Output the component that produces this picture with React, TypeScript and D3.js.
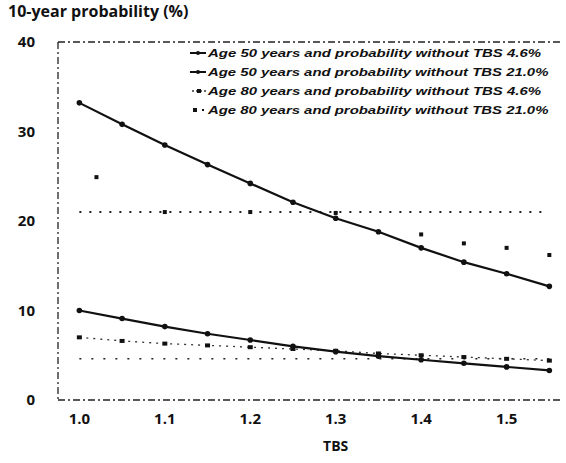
import React from 'react';
import * as d3 from 'd3';

// TBS values on the x axis
const tbs = [1.0, 1.05, 1.1, 1.15, 1.2, 1.25, 1.3, 1.35, 1.4, 1.45, 1.5, 1.55];
const xTicks = [1.0, 1.1, 1.2, 1.3, 1.4, 1.5];
const yTicks = [0, 10, 20, 30, 40];

// 10-year probability (%)
const age50p46 = [10.0, 9.1, 8.2, 7.4, 6.7, 6.0, 5.4, 4.9, 4.5, 4.1, 3.7, 3.3];
const age50p21 = [33.2, 30.8, 28.5, 26.3, 24.2, 22.1, 20.3, 18.8, 17.0, 15.4, 14.1, 12.7];
const age80p46 = [7.0, 6.6, 6.3, 6.1, 5.9, 5.7, 5.5, 5.2, 5.0, 4.8, 4.6, 4.4];
const age80p21X = [1.02, 1.1, 1.2, 1.3, 1.4, 1.45, 1.5, 1.55];
const age80p21 = [24.9, 21.0, 21.0, 20.9, 18.5, 17.5, 17.0, 16.2];

// probability without TBS (flat dotted references)
const refLevels = [21.0, 4.6];

const legendLabels = [
  'Age 50 years and probability without TBS 4.6%',
  'Age 50 years and probability without TBS 21.0%',
  'Age 80 years and probability without TBS 4.6%',
  'Age 80 years and probability without TBS 21.0%',
];

export default function App() {
  const width = 566;
  const height = 463;
  const left = 58, right = 563, top = 42, bottom = 400;

  const x = d3.scaleLinear().domain([0.975, 1.566]).range([left, right]);
  const y = d3.scaleLinear().domain([0, 40]).range([bottom, top]);

  const line = d3.line<[number, number]>()
    .x(d => x(d[0]))
    .y(d => y(d[1]));

  const pts = (xs: number[], ys: number[]) => xs.map((v, i) => [v, ys[i]] as [number, number]);

  const s1 = pts(tbs, age50p46);
  const s2 = pts(tbs, age50p21);
  const s3 = pts(tbs, age80p46);
  const s4 = pts(age80p21X, age80p21);

  const font = "'Open Sans', 'Liberation Sans', sans-serif";

  return (
    <svg width={width} height={height} style={{ position: 'absolute', left: 0, top: 0, background: '#fff' }}>
      {/* title */}
      <text x={8} y={17} fontFamily={font} fontWeight="bold" fontSize={16} fill="#111">
        10-year probability (%)
      </text>

      {/* frame */}
      <g stroke="#222" strokeWidth={1.3} strokeDasharray="7 3 2 3" fill="none">
        <line x1={left} x2={right} y1={y(40)} y2={y(40)} />
        <line x1={left} x2={left} y1={y(40)} y2={y(0)} />
        <line x1={left} x2={right} y1={y(0)} y2={y(0)} />
      </g>

      {/* y ticks */}
      {yTicks.map(t => (
        <text key={t} x={35} y={y(t) + 5} textAnchor="end" fontFamily={font} fontWeight="bold" fontSize={15} fill="#111">
          {t}
        </text>
      ))}

      {/* x ticks */}
      {xTicks.map(t => (
        <text key={t} x={x(t)} y={424} textAnchor="middle" fontFamily={font} fontWeight="bold" fontSize={15} fill="#111">
          {t.toFixed(1)}
        </text>
      ))}
      <text x={x(1.3)} y={451} textAnchor="middle" fontFamily={font} fontWeight="bold" fontSize={14} fill="#111">
        TBS
      </text>

      {/* reference levels */}
      {refLevels.map((r, i) => (
        <line key={r} x1={x(1.0)} x2={x(1.55)} y1={y(r)} y2={y(r)}
          stroke="#222" strokeWidth={i === 0 ? 2 : 1.5} strokeDasharray={i === 0 ? '2 8' : '2 10'} />
      ))}

      {/* age 80, 4.6% */}
      <path d={line(s3) || ''} fill="none" stroke="#333" strokeWidth={1.3} strokeDasharray="2 5" />
      {s3.map((d, i) => (
        <rect key={i} x={x(d[0]) - 2.5} y={y(d[1]) - 2} width={5} height={4} fill="#111" />
      ))}

      {/* age 80, 21% */}
      {s4.map((d, i) => (
        <rect key={i} x={x(d[0]) - 2} y={y(d[1]) - 2} width={4} height={4} fill="#111" />
      ))}

      {/* age 50 lines */}
      {[s1, s2].map((s, k) => (
        <g key={k}>
          <path d={line(s) || ''} fill="none" stroke="#111" strokeWidth={2.2} />
          {s.map((d, i) => (
            <circle key={i} cx={x(d[0])} cy={y(d[1])} r={2.8} fill="#111" />
          ))}
        </g>
      ))}

      {/* legend */}
      {legendLabels.map((l, i) => {
        const ly = 57 + i * 19;
        return (
          <g key={l}>
            {i < 2 && <line x1={190} x2={206} y1={ly - 4} y2={ly - 4} stroke="#111" strokeWidth={2} />}
            {i < 2 && <circle cx={198} cy={ly - 4} r={2} fill="#111" />}
            {i === 2 && <line x1={192} x2={206} y1={ly - 4} y2={ly - 4} stroke="#333" strokeWidth={1.3} strokeDasharray="2 2" />}
            {i === 2 && <rect x={197} y={ly - 6} width={4} height={4} fill="#111" />}
            {i === 3 && <rect x={193} y={ly - 6} width={4} height={4} fill="#111" />}
            {i === 3 && <rect x={202} y={ly - 5} width={2} height={2} fill="#111" />}
            <text x={208} y={ly} fontFamily="'Liberation Sans', Arial, sans-serif" fontStyle="italic" fontWeight="bold"
              fontSize={11.5} fill="#111" textLength={l.length * 7.4} lengthAdjust="spacingAndGlyphs">
              {l}
            </text>
          </g>
        );
      })}
    </svg>
  );
}
